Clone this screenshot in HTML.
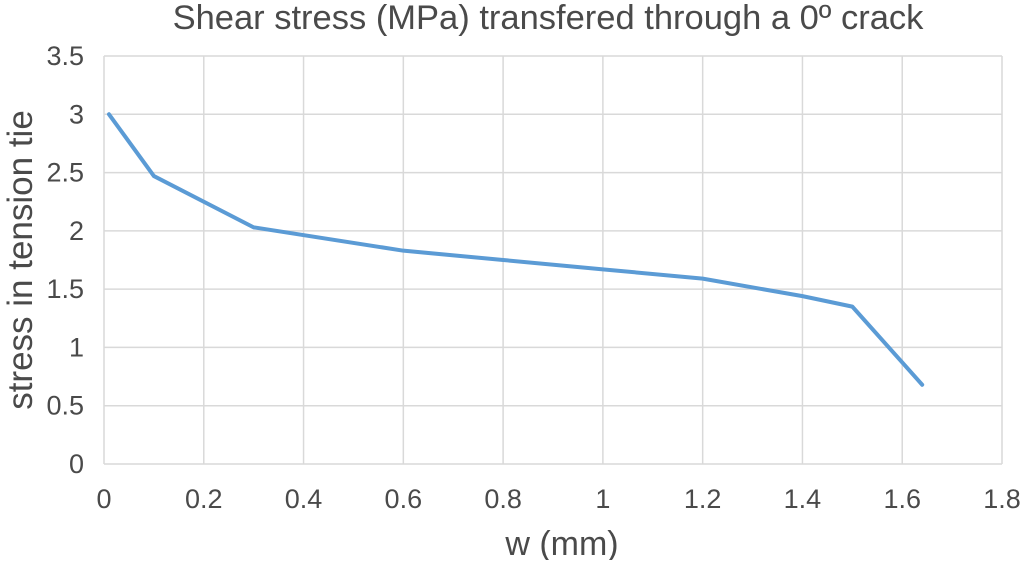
<!DOCTYPE html>
<html><head><meta charset="utf-8"><style>
html,body{margin:0;padding:0;background:#fff;}
svg text{font-family:"Liberation Sans",sans-serif;fill:#4a4a4a;}
</style></head><body>
<svg id="chart" width="1024" height="560" xmlns="http://www.w3.org/2000/svg">
<text x="548" y="29" font-size="34.5" text-anchor="middle">Shear stress (MPa) transfered through a 0º crack</text>
<g id="grid"></g><g id="ticks"></g><g id="series"></g>
<text x="562" y="555" font-size="34" text-anchor="middle">w (mm)</text>
<text transform="translate(32,260) rotate(-90)" font-size="35" text-anchor="middle">stress in tension tie</text>
</svg>
<script>
const xTicks=[0,0.2,0.4,0.6,0.8,1,1.2,1.4,1.6,1.8];
const yTicks=[0,0.5,1,1.5,2,2.5,3,3.5];
const wValues=[0.01,0.1,0.3,0.6,0.8,1.0,1.2,1.4,1.5,1.64];
const stressValues=[3.0,2.47,2.03,1.83,1.75,1.67,1.59,1.44,1.35,0.68];
const X0=104,X1=1002,Y0=464,Y1=56;
const xs=v=>X0+(v-0)/(1.8-0)*(X1-X0);
const ys=v=>Y0-(v-0)/(3.5-0)*(Y0-Y1);
const NS="http://www.w3.org/2000/svg";
const grid=document.getElementById('grid'),ticks=document.getElementById('ticks'),series=document.getElementById('series');
function mk(t,a){const e=document.createElementNS(NS,t);for(const k in a)e.setAttribute(k,a[k]);return e;}
xTicks.forEach(v=>{
 const l=mk('line',{x1:xs(v),x2:xs(v),y1:Y1,y2:Y0,stroke:'#d9d9d9','stroke-width':1.5});
 
 
 grid.appendChild(l);
 const t=mk('text',{x:xs(v),y:508,'font-size':27,'text-anchor':'middle'});t.textContent=v;
 
 
 ticks.appendChild(t);
});
yTicks.forEach(v=>{
 const l=mk('line',{x1:X0,x2:X1,y1:ys(v),y2:ys(v),stroke:'#d9d9d9','stroke-width':1.5});
 
 
 grid.appendChild(l);
 const t=mk('text',{x:84,y:ys(v)+9,'font-size':27,'text-anchor':'end'});t.textContent=v;
 
 
 ticks.appendChild(t);
});
const pts=wValues.map((w,i)=>xs(w)+','+ys(stressValues[i])).join(' ');
const pl=mk('polyline',{points:pts,fill:'none',stroke:'#5b9bd5','stroke-width':4,'stroke-linejoin':'round','stroke-linecap':'round'});


series.appendChild(pl);
</script>
</body></html>
